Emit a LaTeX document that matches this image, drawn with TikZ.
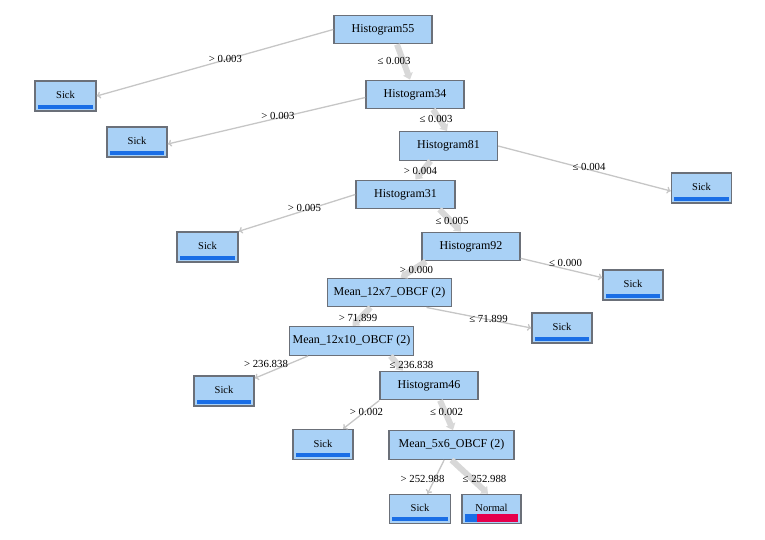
\documentclass[tikz,border=0pt]{standalone}
\usepackage{fontspec}
\setmainfont{Liberation Serif}
\usetikzlibrary{arrows.meta}
\definecolor{boxfill}{HTML}{A9D1F6}
\definecolor{boxline}{HTML}{6B7079}
\definecolor{sickblue}{HTML}{1A6EE6}
\definecolor{normred}{HTML}{E6004C}
\definecolor{mainedge}{HTML}{D8D8D8}
\definecolor{sideedge}{HTML}{C6C6C6}
\begin{document}
\begin{tikzpicture}[x=1pt,y=1pt,
	split/.style={draw=boxline,fill=boxfill,line width=1.4pt,inner sep=0pt,minimum height=28.5pt,font=\fontsize{12}{14}\selectfont},
	leaf/.style={draw=boxline,fill=boxfill,line width=1.4pt,inner sep=0pt,minimum width=60pt,minimum height=30pt,font=\fontsize{10.5}{12}\selectfont,
		path picture={\fill[sickblue] ([xshift=2.5pt,yshift=2.5pt]path picture bounding box.south west) rectangle ([xshift=-3pt,yshift=6.5pt]path picture bounding box.south east);}},
	normleaf/.style={leaf,
		path picture={\fill[sickblue] ([xshift=3pt,yshift=2pt]path picture bounding box.south west) rectangle ([xshift=15pt,yshift=10pt]path picture bounding box.south west);
			\fill[normred] ([xshift=15pt,yshift=2pt]path picture bounding box.south west) rectangle ([xshift=-3pt,yshift=10pt]path picture bounding box.south east);}},
	cond/.style={inner sep=0pt,font=\fontsize{10.8}{12}\selectfont},
	main edge/.style={draw=mainedge,line width=6pt,-{Triangle[length=6pt,width=10pt]}},
	side edge/.style={draw=sideedge,line width=1.3pt,-{To[length=4pt,width=7pt]}}]
	\useasboundingbox (0,0) rectangle (765,-539);

	\node[split,minimum width=98pt] (1) at (383,-29.5) {Histogram55};
	\node[leaf,minimum width=61pt] (2) at (65.5,-96) {\raisebox{2pt}{Sick}};
	\node[split,minimum width=98pt] (3) at (415,-94.5) {Histogram34};
	\node[leaf] (4) at (137,-142) {\raisebox{2pt}{Sick}};
	\node[split,minimum width=98pt] (5) at (448.5,-146) {Histogram81};
	\node[leaf] (6) at (701.5,-188) {\raisebox{2pt}{Sick}};
	\node[split,minimum width=99pt] (7) at (405.5,-194.5) {Histogram31};
	\node[leaf,minimum width=61pt] (8) at (207.5,-247) {\raisebox{2pt}{Sick}};
	\node[split,minimum width=98pt] (9) at (471,-246.5) {Histogram92};
	\node[leaf] (10) at (633,-285) {\raisebox{2pt}{Sick}};
	\node[split,minimum width=124pt] (11) at (389.5,-292.5) {Mean\_12x7\_OBCF (2)};
	\node[leaf] (12) at (562,-328) {\raisebox{2pt}{Sick}};
	\node[split,minimum width=124pt] (13) at (351.5,-341) {Mean\_12x10\_OBCF (2)};
	\node[leaf] (14) at (224,-391) {\raisebox{2pt}{Sick}};
	\node[split,minimum width=98pt] (15) at (429,-385.5) {Histogram46};
	\node[leaf] (16) at (323,-444.5) {\raisebox{2pt}{Sick}};
	\node[split,minimum width=125pt] (17) at (451.5,-445) {Mean\_5x6\_OBCF (2)};
	\node[leaf,minimum width=61pt,minimum height=29pt] (18) at (420,-509) {\raisebox{2pt}{Sick}};
	\node[normleaf,minimum width=59pt,minimum height=29pt] (19) at (491.5,-509) {\raisebox{3pt}{Normal}};

	\draw [side edge] (1.west) -- (2.east);
	\draw [side edge] ([yshift=-3pt]3.west) -- ([yshift=-2pt]4.east);
	\draw [side edge] (5.east) -- ([yshift=-3pt]6.west);
	\draw [side edge] (7.west) -- (8.north east);
	\draw [side edge] (9) -- (10);
	\draw [side edge] (11.-22) -- (12.west);
	\draw [side edge] (13.199) -- (14);
	\draw [side edge] (15.south west) -- (16);
	\draw [side edge] (17) -- (18);

	\draw [main edge] ([xshift=14pt]1.south) -- ([xshift=-5pt]3.north);
	\draw [main edge] ([xshift=18pt]3.south) -- ([xshift=-1.5pt]5.north);
	\draw [main edge] ([xshift=-18pt]5.south) -- ([xshift=10pt]7.north);
	\draw [main edge] ([xshift=34pt]7.south) -- ([xshift=-10pt]9.north);
	\draw [main edge] ([xshift=-45pt]9.south) -- ([xshift=11pt]11.north);
	\draw [main edge] ([xshift=-19pt]11.south) -- ([xshift=1pt]13.north);
	\draw [main edge] ([xshift=39pt]13.south) -- ([xshift=-26pt]15.north);
	\draw [main edge] ([xshift=11pt]15.south) -- ([xshift=1.5pt]17.north);
	\draw [main edge] (17.south) -- ([xshift=-3.5pt]19.north);

	\node[cond] (l1) at (225.5,-59) {> 0.003};
	\node[cond] (l2) at (394,-61) {≤ 0.003};
	\node[cond] (l3) at (278,-116) {> 0.003};
	\node[cond] (l4) at (436,-119) {≤ 0.003};
	\node[cond] (l5) at (420.5,-171) {> 0.004};
	\node[cond] (l6) at (589,-167) {≤ 0.004};
	\node[cond] (l7) at (304.5,-208) {> 0.005};
	\node[cond] (l8) at (452,-221) {≤ 0.005};
	\node[cond] (l9) at (416.5,-270) {> 0.000};
	\node[cond] (l10) at (565.5,-263) {≤ 0.000};
	\node[cond] (l11) at (358,-318) {> 71.899};
	\node[cond] (l12) at (488.5,-319) {≤ 71.899};
	\node[cond] (l13) at (266,-364) {> 236.838};
	\node[cond] (l14) at (411.5,-365) {≤ 236.838};
	\node[cond] (l15) at (366.5,-412) {> 0.002};
	\node[cond] (l16) at (446.5,-412) {≤ 0.002};
	\node[cond] (l17) at (422.5,-479) {> 252.988};
	\node[cond] (l18) at (484.5,-479) {≤ 252.988};
\end{tikzpicture}
\end{document}
